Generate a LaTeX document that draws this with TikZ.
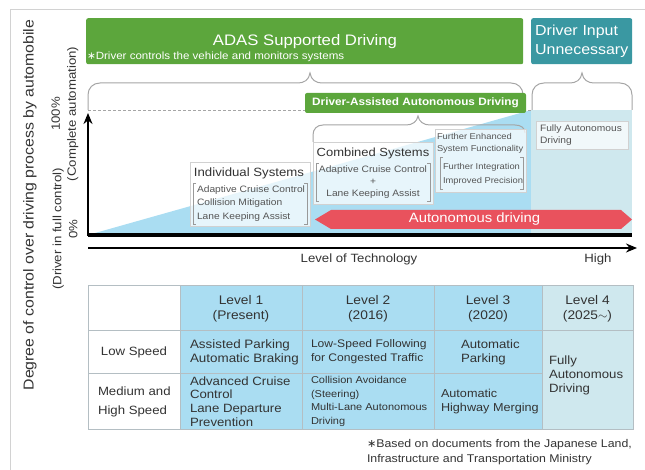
\documentclass[tikz,border=0pt]{standalone}
\usepackage{fontspec}
\setmainfont{Liberation Sans}[FakeStretch=1.1]
\newfontfamily\symfont{DejaVu Sans}
\usetikzlibrary{arrows.meta}
\definecolor{adas}{RGB}{92,166,60}
\definecolor{tealbox}{RGB}{58,152,162}
\definecolor{lblue}{RGB}{170,221,242}
\definecolor{lfour}{RGB}{207,232,238}
\definecolor{redar}{RGB}{233,82,93}
\definecolor{txt}{RGB}{51,51,51}
\definecolor{subtxt}{RGB}{85,85,85}
\definecolor{framec}{RGB}{210,210,210}
\definecolor{bracec}{RGB}{165,165,165}
\definecolor{gridc}{RGB}{180,190,195}
\newcommand{\fs}[2]{\fontsize{#1}{#2}\selectfont}
\newcommand{\myast}{{\symfont ∗}}
\tikzset{
  lbl/.style={inner sep=0pt, outer sep=0pt, text=txt},
  wlbl/.style={inner sep=0pt, outer sep=0pt, text=white},
  bracestyle/.style={draw=bracec, line width=1pt},
  glassbox/.style={draw=black!18, fill=white, fill opacity=0.72, line width=0.6pt},
  brk/.style={draw=black!40, line width=0.6pt},
  gridline/.style={draw=gridc, line width=0.8pt},
}
\begin{document}
\begin{tikzpicture}[x=1pt,y=-1pt]
\useasboundingbox (0,0) rectangle (645,470);
% frame
\draw[framec, line width=0.8pt] (10,470) -- (10,9) -- (645,9);
% shaded regions
\fill[lblue] (88,235) -- (531,110) -- (531,235) -- cycle;
\fill[lfour] (531,110) rectangle (632,235);
\draw[bracec, line width=0.6pt, dash pattern=on 3pt off 2pt] (88,110) -- (531,110);
% braces
\draw[bracestyle] (88,110) -- (88,95) .. controls (88,88) and (93,83) .. (100,83) -- (298,83)
  .. controls (304,83) and (309,80) .. (310,73) .. controls (311,80) and (316,83) .. (322,83)
  -- (511,83) .. controls (518,83) and (523,88) .. (523,95) -- (523,110);
\draw[bracestyle] (532,110) -- (532,95) .. controls (532,88) and (537,83) .. (544,83) -- (570,83)
  .. controls (576,83) and (581,80) .. (582,73) .. controls (583,80) and (588,83) .. (594,83)
  -- (620,83) .. controls (627,83) and (632,88) .. (632,95) -- (632,110);
\draw[bracestyle] (313,142) -- (313,135) .. controls (313,129) and (317,125) .. (323,125) -- (406,125)
  .. controls (412,125) and (417,122) .. (418,116) .. controls (419,122) and (424,125) .. (430,125)
  -- (515,125) .. controls (521,125) and (525,128) .. (525,133);
% top boxes
\node[fill=adas, rounded corners=2pt, minimum width=437pt, minimum height=46pt, anchor=north west, inner sep=0pt] (adasbox) at (86,18) {};
\node[wlbl, font=\fs{15.2}{18}] (adastitle) at (305,41.5) {ADAS Supported Driving};
\node[wlbl, font=\fs{10.5}{12}, anchor=west] (adassub) at (87,57) {\myast Driver controls the vehicle and monitors systems};
\node[fill=tealbox, rounded corners=2pt, minimum width=101pt, minimum height=46pt, anchor=north west, inner xsep=4pt, inner ysep=0pt, text width=93pt, align=left, text=white, font=\fs{14.5}{19.5}] (dinput) at (531,18) {Driver Input\\Unnecessary};
\node[fill=adas, rounded corners=2pt, minimum width=221pt, minimum height=20pt, inner sep=0pt, text=white, font=\bfseries\fs{10.7}{12}] (dassist) at (415.5,103) {Driver-Assisted Autonomous Driving};
% glass boxes
\node[glassbox, minimum width=120pt, minimum height=64pt, anchor=north west] (indbox) at (190,162) {};
\node[lbl, font=\fs{12}{14}] (indtitle) at (249,173) {Individual Systems};
\node[lbl, text=subtxt, font=\fs{9.3}{13.5}, align=left, anchor=west] (inditems) at (197,203.5) {Adaptive Cruise Control\\Collision Mitigation\\Lane Keeping Assist};
\draw[brk] (196,183) -- (193,183) -- (193,224) -- (196,224);
\draw[brk] (304,183) -- (307,183) -- (307,224) -- (304,224);
\node[glassbox, minimum width=120pt, minimum height=62pt, anchor=north west] (combox) at (313,142) {};
\node[lbl, font=\fs{11.8}{14}] (comtitle) at (373,153) {Combined Systems};
\node[lbl, text=subtxt, font=\fs{9.3}{12}, align=center] (comitems) at (373,182.5) {Adaptive Cruise Control\\+\\Lane Keeping Assist};
\draw[brk] (319,163) -- (316,163) -- (316,201) -- (319,201);
\draw[brk] (427,163) -- (430,163) -- (430,201) -- (427,201);
\node[glassbox, minimum width=91pt, minimum height=63pt, anchor=north west] (furbox) at (435,129) {};
\node[lbl, text=subtxt, font=\fs{8.5}{12}, align=left, anchor=west] (furtitle) at (437,143.5) {Further Enhanced\\System Functionality};
\node[lbl, text=subtxt, font=\fs{8.5}{14}, align=left, anchor=west] (furitems) at (443,174.5) {Further Integration\\Improved Precision};
\draw[brk] (443,157) -- (440,157) -- (440,189) -- (443,189);
\draw[brk] (520,157) -- (523,157) -- (523,189) -- (520,189);
\node[glassbox, minimum width=92pt, minimum height=28pt, anchor=north west] (fullbox) at (536,121) {};
\node[lbl, text=subtxt, font=\fs{9.3}{12}, align=left, anchor=west] (fulltxt) at (540,135.5) {Fully Autonomous\\Driving};
% red arrow
\fill[redar] (315,219.5) -- (331,210) -- (621,210) -- (632,219.5) -- (621,229) -- (331,229) -- cycle;
\node[wlbl, font=\fs{13.5}{15}] (autotxt) at (474.5,219.5) {Autonomous driving};
% axes
\coordinate (origin) at (88,235);
\coordinate (yend) at (88,113);
\coordinate (xend) at (632,235);
\coordinate (tstart) at (88,248);
\coordinate (tend) at (637,248);
\draw[line width=3.2pt] (origin) -- (xend);
\draw[line width=2.4pt, -{Stealth[length=11pt,width=9pt]}] ([yshift=-1pt]origin) -- (yend);
\draw[line width=2.6pt, -{Stealth[length=11pt,width=9pt]}] (tstart) -- (tend);
\node[lbl, font=\fs{12}{14}] (techlbl) at (359,259.5) {Level of Technology};
\node[lbl, font=\fs{12}{14}] (highlbl) at (598,259.5) {High};
% left labels
\node[lbl, rotate=90, font=\fs{14.4}{16}] (ylbl) at (30,205) {Degree of control over driving process by automobile};
\node[lbl, rotate=90, font=\fs{12}{16}, align=center] (zerolbl) at (65,229) {(Driver in full control)\\0\%};
\node[lbl, rotate=90, font=\fs{12}{16}, align=center] (fulllbl) at (65,114) {100\%\\(Complete automation)};
% table
\fill[white] (88,285) rectangle (180,429);
\fill[lblue] (180,285) rectangle (542,429);
\fill[lfour] (542,285) rectangle (633,429);
\draw[gridline] (88,285) rectangle (633,429);
\draw[gridline] (88,330) -- (633,330);
\draw[gridline] (88,373) -- (542,373);
\draw[gridline] (180,285) -- (180,429);
\draw[gridline] (302,285) -- (302,429);
\draw[gridline] (434,285) -- (434,429);
\draw[gridline] (542,285) -- (542,429);
\node[lbl, font=\fs{12.5}{15}, align=center] (h1) at (241,308.5) {Level 1\\(Present)};
\node[lbl, font=\fs{12.5}{15}, align=center] (h2) at (368,308.5) {Level 2\\(2016)};
\node[lbl, font=\fs{12.5}{15}, align=center] (h3) at (488,308.5) {Level 3\\(2020)};
\node[lbl, font=\fs{12.5}{15}, align=center] (h4) at (587.5,308.5) {Level 4\\(2025$\sim$)};
\node[lbl, font=\fs{12}{14}] (r1) at (134,352) {Low Speed};
\node[lbl, font=\fs{12}{19}, align=left, anchor=west] (r2) at (98,401.5) {Medium and\\High Speed};
\node[lbl, font=\fs{12.2}{14}, align=left, anchor=west] (c11) at (190,352) {Assisted Parking\\Automatic Braking};
\node[lbl, font=\fs{11}{14}, align=left, anchor=west] (c12) at (311,352) {Low-Speed Following\\for Congested Traffic};
\node[lbl, font=\fs{12}{14}, align=left, anchor=west] (c13) at (461,352) {Automatic\\Parking};
\node[lbl, font=\fs{12}{13.7}, align=left, anchor=west] (c21) at (190,401.5) {Advanced Cruise\\Control\\Lane Departure\\Prevention};
\node[lbl, font=\fs{10}{13.7}, align=left, anchor=west] (c22) at (311,401.5) {Collision Avoidance\\(Steering)\\Multi-Lane Autonomous\\Driving};
\node[lbl, font=\fs{11.5}{14}, align=left, anchor=west] (c23) at (441,401.5) {Automatic\\Highway Merging};
\node[lbl, font=\fs{12}{14}, align=left, anchor=west] (c4) at (549,375) {Fully\\Autonomous\\Driving};
% footnote
\node[lbl, font=\fs{11.2}{15}, align=left, anchor=west] (foot) at (367,452.5) {\myast Based on documents from the Japanese Land,\\Infrastructure and Transportation Ministry};
\end{tikzpicture}
\end{document}
